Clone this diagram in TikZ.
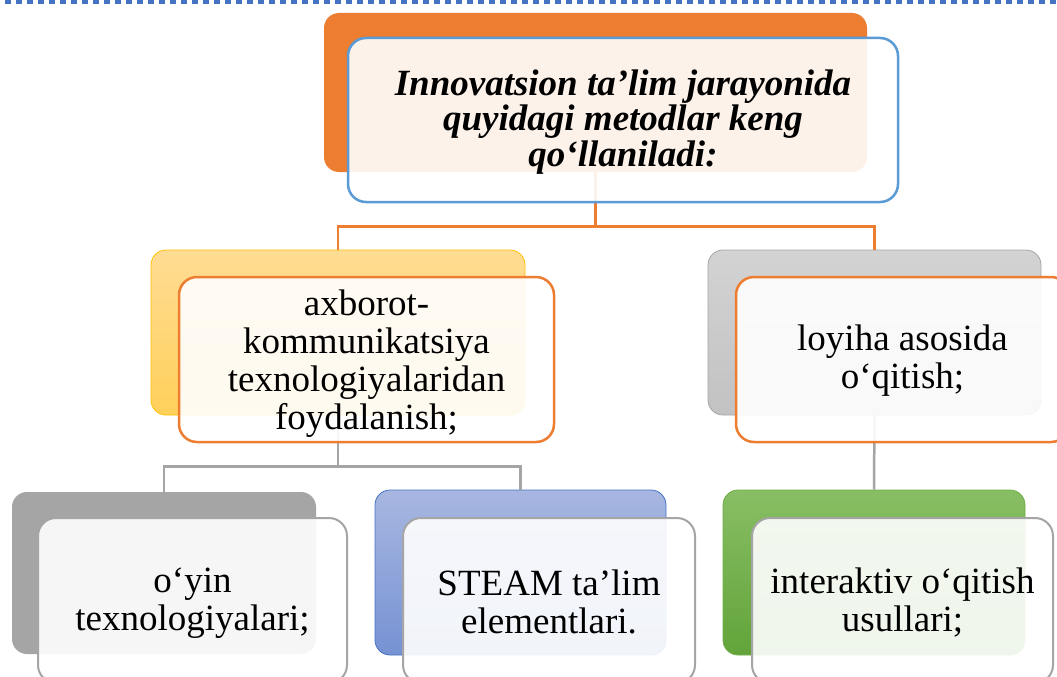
\documentclass[tikz,border=0pt]{standalone}
\usepackage{fontspec}
\setmainfont{Liberation Serif}
\definecolor{cOrange}{HTML}{ED7D31}
\definecolor{cBlue}{HTML}{5B9BD5}
\definecolor{cDot}{HTML}{4472C4}
\definecolor{cGray}{HTML}{A5A5A5}
\definecolor{cYelT}{HTML}{FFDC94}
\definecolor{cYelB}{HTML}{FFD05A}
\definecolor{cYelD}{HTML}{FFC000}
\definecolor{cGrT}{HTML}{D3D3D3}
\definecolor{cGrB}{HTML}{C2C2C2}
\definecolor{cBlT}{HTML}{A8B7E1}
\definecolor{cBlB}{HTML}{7692D3}
\definecolor{cBlD}{HTML}{4472C4}
\definecolor{cGnT}{HTML}{88BE64}
\definecolor{cGnB}{HTML}{62A43A}
\definecolor{cGnD}{HTML}{70AD47}
\begin{document}
\begin{tikzpicture}[x=1pt,y=-1pt,
  back/.style={rectangle, rounded corners=15pt, inner sep=0pt, line width=0.8pt},
  front/.style={rectangle, rounded corners=18pt, inner sep=0pt, line width=2.5pt,
    fill=white, fill opacity=0.9, text opacity=1, align=center,
    font=\fontsize{37}{38}\selectfont},
  conn/.style={line width=2.5pt},
  dotline/.style={cDot, line width=3.6pt, dash pattern=on 5.3pt off 5.7pt, dash phase=5.7pt}
]
\useasboundingbox (0,0) rectangle (1057,677);
\fill[white] (0,0) rectangle (1057,677);
\clip (0,0) rectangle (1057,677);

% top dotted rule
\coordinate (dl) at (0,1.8);
\coordinate (dr) at (1057,1.8);
\draw[dotline] (dl) -- (dr);

% back boxes
\node[back, fill=cOrange, minimum width=543pt, minimum height=159pt] (b0) at (595.5,92.5) {};
\node[back, draw=cYelD, top color=cYelT, bottom color=cYelB, minimum width=374pt, minimum height=165pt] (b1) at (338,332.5) {};
\node[back, draw=cGray, top color=cGrT, bottom color=cGrB, minimum width=333pt, minimum height=165pt] (b2) at (874.5,332.5) {};
\node[back, fill=cGray, minimum width=304pt, minimum height=162pt] (b3) at (164,573) {};
\node[back, draw=cBlD, top color=cBlT, bottom color=cBlB, minimum width=291pt, minimum height=165pt] (b4) at (520.5,572.5) {};
\node[back, draw=cGnD, top color=cGnT, bottom color=cGnB, minimum width=302pt, minimum height=165pt] (b5) at (874,572.5) {};

% connectors
\draw[conn, cOrange] (b0.south) -- ++(0,54) -| (b1.north);
\draw[conn, cOrange] (b0.south) -- ++(0,54) -| (b2.north);
\draw[conn, cGray] (b1.south) -- ++(0,51) -| (b3.north);
\draw[conn, cGray] (b1.south) -- ++(0,51) -| (b4.north);
\draw[conn, cGray] (b2.south) -- (b5.north);

% front boxes
\node[front, draw=cBlue, minimum width=550pt, minimum height=164pt,
  font=\fontsize{37}{35.5}\selectfont\bfseries\itshape] (f0) at (623,120)
  {\rule{0pt}{29pt}Innovatsion ta’lim jarayonida\\quyidagi metodlar keng\\qo‘llaniladi:};
\node[front, draw=cOrange, minimum width=375pt, minimum height=165pt] (f1) at (366.5,359.5)
  {\rule{0pt}{33pt}axborot-\\kommunikatsiya\\texnologiyalaridan\\foydalanish;};
\node[front, draw=cOrange, minimum width=333pt, minimum height=165pt] (f2) at (902.5,359.5)
  {\rule{0pt}{27pt}loyiha asosida\\o‘qitish;};
\node[front, draw=cGray, line width=2pt, minimum width=309pt, minimum height=165pt] (f3) at (192.5,600.5)
  {\rule{0pt}{29pt}o‘yin\\texnologiyalari;};
\node[front, draw=cGray, line width=2pt, minimum width=292pt, minimum height=165pt] (f4) at (549,600.5)
  {\rule{0pt}{29pt}STEAM ta’lim\\elementlari.};
\node[front, draw=cGray, line width=2pt, minimum width=301pt, minimum height=165pt] (f5) at (902.5,600.5)
  {\rule{0pt}{29pt}interaktiv o‘qitish\\usullari;};
\end{tikzpicture}
\end{document}
